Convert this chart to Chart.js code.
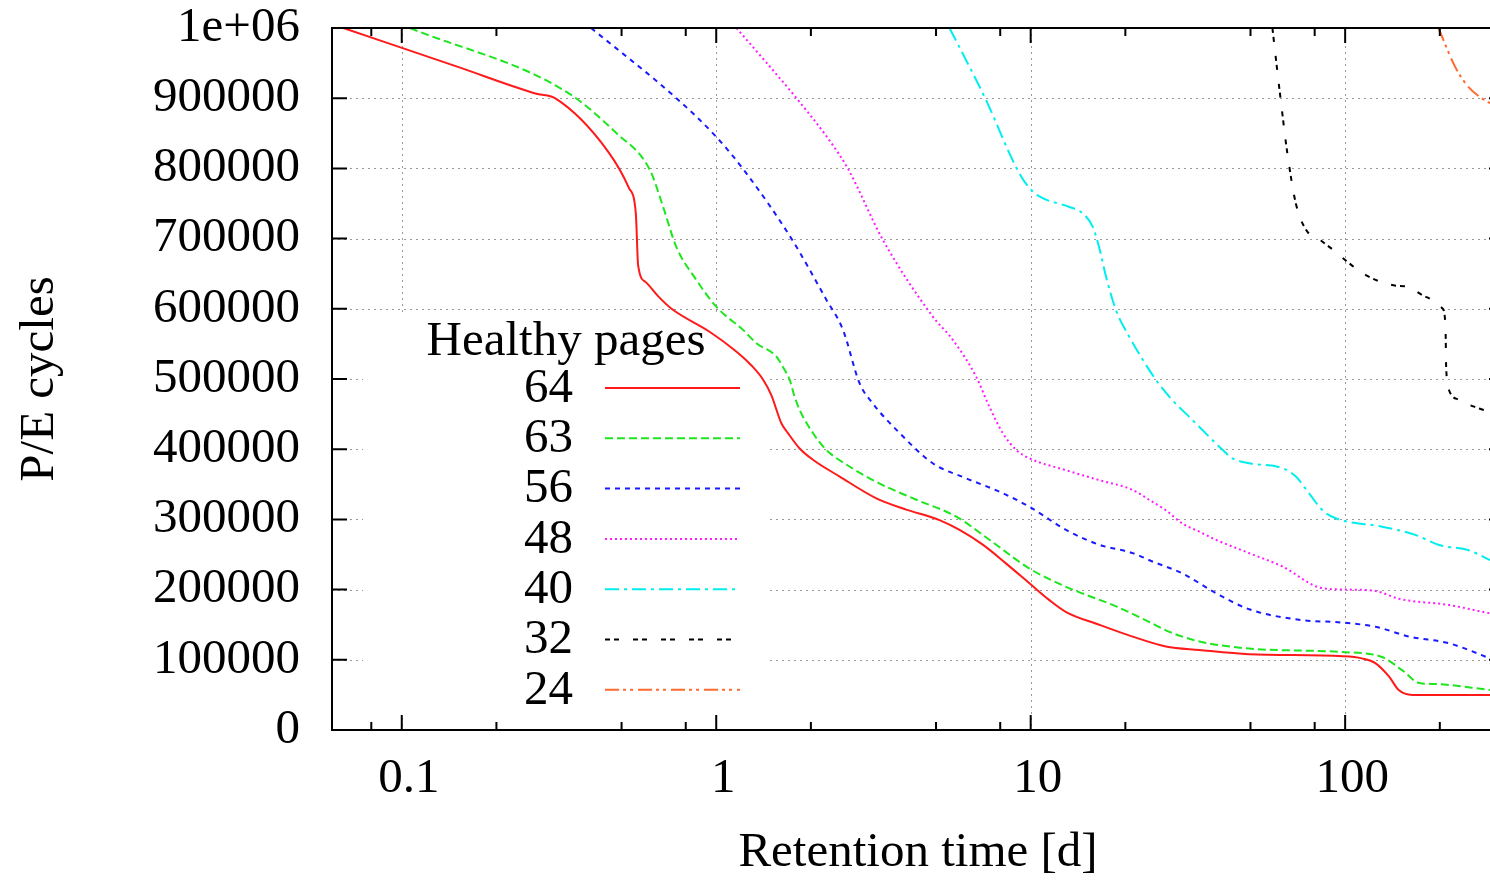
<!DOCTYPE html>
<html>
<head>
<meta charset="utf-8">
<title>P/E cycles vs retention time</title>
<script src="https://cdn.jsdelivr.net/npm/chart.js@4.4.0/dist/chart.umd.min.js"></script>
<style>
  html, body { margin: 0; padding: 0; background: #fff; overflow: hidden; }
  #chart { display: block; }
</style>
</head>
<body>
<canvas id="chart" width="1504" height="880"></canvas>
<script>
// healthy pages per curve
const seriesNames = ['64', '63', '56', '48', '40', '32', '24'];

// retention time [d] and P/E cycles
const x64 = [0.0652, 0.15, 0.27, 0.307, 0.453, 0.528, 0.555, 0.5645, 0.597, 0.653, 0.721, 0.955, 1.145, 1.29, 1.41, 1.497, 1.611, 1.69, 1.842, 2.03, 2.47, 3.23, 4.02, 5.13, 5.94, 7.04, 8.36, 9.91, 11.47, 12.96, 16.5, 21.1, 26.9, 34.4, 49.5, 98, 113, 125, 138, 148, 163.5, 289];
const y64 = [1000000, 945000, 906000, 900000, 824000, 772000, 736000, 662000, 638000, 618000, 600000, 567000, 541000, 520000, 499000, 477000, 437000, 423000, 401000, 385000, 361000, 330000, 314000, 299000, 285000, 264000, 237000, 209000, 185000, 168000, 150000, 133000, 119000, 114000, 108000, 105000, 102000, 95000, 76000, 57000, 50000, 50000];

const x63 = [0.1062, 0.334, 0.482, 0.615, 0.678, 0.747, 0.865, 1.0, 1.216, 1.342, 1.553, 1.63, 1.712, 1.775, 1.842, 2.03, 2.24, 2.66, 3.31, 4.33, 5.8, 7.39, 9.91, 12.96, 18.7, 23.8, 26.9, 30.4, 34.4, 49.5, 98, 131, 152, 172, 194, 289];
const y63 = [1000000, 909000, 850000, 798000, 745000, 688000, 641000, 603000, 570000, 551000, 532000, 517000, 499000, 475000, 456000, 423000, 399000, 375000, 351000, 328000, 304000, 271000, 230000, 204000, 176000, 154000, 142000, 133000, 126000, 116000, 111000, 104000, 85000, 67000, 65500, 57000];

const x56 = [0.40, 0.747, 1.0, 1.247, 1.734, 2.24, 2.53, 2.856, 3.15, 3.83, 4.88, 6.24, 7.95, 9.91, 12.96, 16.5, 21.1, 24.4, 30.4, 38.8, 49.5, 71.4, 98, 125, 160, 214, 289];
const y56 = [1000000, 900000, 845000, 793000, 700000, 613000, 570000, 494000, 465000, 423000, 380000, 358500, 339500, 318000, 285000, 264000, 252000, 240000, 223000, 195000, 172000, 157000, 153000, 147000, 133000, 123500, 102000];

const x48 = [1.16, 1.80, 2.29, 2.62, 3.39, 4.88, 5.65, 6.71, 7.39, 8.15, 8.99, 9.91, 12.96, 16.5, 21.1, 23.8, 26.9, 30.4, 34.4, 38.8, 49.5, 63.1, 84.7, 103, 125, 148, 214, 289];
const y48 = [1000000, 900000, 840000, 800000, 698000, 589000, 556000, 503000, 460500, 423000, 399000, 387000, 370000, 356000, 342000, 328000, 313000, 294000, 282500, 271000, 252000, 233000, 202000, 200000, 198000, 187000, 178000, 166000];

const x40 = [5.52, 7.13, 9.2, 9.91, 10.66, 13.28, 14.63, 15.74, 16.5, 17.36, 18.68, 20.6, 25, 28.2, 31.95, 39.8, 43.8, 49.5, 63.1, 69.7, 76.8, 84.7, 93.3, 131, 167, 199, 247, 289];
const y40 = [1000000, 902000, 793000, 772000, 760000, 745000, 736000, 717000, 688000, 646000, 598000, 560000, 499000, 470000, 446000, 403600, 387000, 380000, 373000, 361000, 337000, 313000, 301600, 289600, 278000, 263500, 256000, 242000];

const x32 = [58.7, 62.4, 65.5, 69.7, 75, 84.7, 93.3, 100, 116.4, 145, 156, 180.5, 204, 208.5, 209.5, 214, 231, 267, 289];
const y32 = [1000000, 897000, 821500, 750000, 713000, 695600, 681000, 669500, 648000, 633000, 632000, 617000, 600400, 575000, 517000, 484000, 470000, 458000, 453000];

const x24 = [198, 223.6, 246.5, 271.6, 289];
const y24 = [1000000, 945000, 916000, 900000, 893000];

// axis ticks
const xMajorTicks = [0.1, 1, 10, 100];
const xTickLabels = ['0.1', '1', '10', '100'];
const xMinorTicks = [0.08, 0.2, 0.5, 0.8, 2, 5, 8, 20, 50, 80, 200];
const yTicks = [0, 100000, 200000, 300000, 400000, 500000, 600000, 700000, 800000, 900000, 1000000];
const yTickLabels = ['0', '100000', '200000', '300000', '400000', '500000', '600000', '700000', '800000', '900000', '1e+06'];

const seriesX = [x64, x63, x56, x48, x40, x32, x24];
const seriesY = [y64, y63, y56, y48, y40, y32, y24];
const colors = ['#ff1a1a', '#1ee61e', '#1a1aff', '#ff1aff', '#00eeee', '#000000', '#ff6a30'];
const dashes = [[], [8, 4], [5, 5], [2, 3], [14, 5, 3, 5], [5, 4, 5, 14], [14, 4, 3, 4, 3, 5]];

const FONT = "'Liberation Serif', 'Times New Roman', serif";
const SIZE = 49;

// gnuplot-like frame: dotted grid, opaque key, inward ticks, key entries
const gnuplotFrame = {
  id: 'gnuplotFrame',
  beforeDatasetsDraw(chart) {
    const {ctx, chartArea: a, scales: {x, y}} = chart;
    ctx.save();
    ctx.strokeStyle = '#999';
    ctx.lineWidth = 1;
    ctx.setLineDash([2, 4]);
    ctx.beginPath();
    xMajorTicks.forEach(v => {
      const px = Math.round(x.getPixelForValue(v)) + 0.5;
      ctx.moveTo(px, a.top);
      ctx.lineTo(px, a.bottom);
    });
    yTicks.slice(1, -1).forEach(v => {
      const py = Math.round(y.getPixelForValue(v)) + 0.5;
      ctx.moveTo(a.left, py);
      ctx.lineTo(a.right, py);
    });
    ctx.stroke();
    ctx.setLineDash([]);
    // key background hides the grid
    ctx.fillStyle = '#fff';
    ctx.fillRect(a.left + 31, a.top + 284, 407, 404);
    ctx.restore();
  },
  afterDatasetsDraw(chart) {
    const {ctx, chartArea: a, scales: {x, y}} = chart;
    ctx.save();
    ctx.strokeStyle = '#000';
    ctx.lineWidth = 2;
    ctx.strokeRect(a.left, a.top, a.right - a.left, a.bottom - a.top);
    ctx.beginPath();
    xMajorTicks.concat(xMinorTicks).forEach(v => {
      const px = x.getPixelForValue(v);
      const len = xMajorTicks.includes(v) ? 15 : 8;
      ctx.moveTo(px, a.bottom); ctx.lineTo(px, a.bottom - len);
      ctx.moveTo(px, a.top); ctx.lineTo(px, a.top + len);
    });
    yTicks.forEach(v => {
      const py = y.getPixelForValue(v);
      ctx.moveTo(a.left, py); ctx.lineTo(a.left + 15, py);
      ctx.moveTo(a.right, py); ctx.lineTo(a.right - 15, py);
    });
    ctx.stroke();

    // key
    ctx.fillStyle = '#000';
    ctx.font = SIZE + 'px ' + FONT;
    ctx.textAlign = 'center';
    ctx.textBaseline = 'alphabetic';
    ctx.fillText('Healthy pages', a.left + 234, a.top + 327);
    seriesNames.forEach((name, i) => {
      const ly = a.top + 360 + i * 50.3;
      ctx.textAlign = 'right';
      ctx.textBaseline = 'middle';
      ctx.fillStyle = '#000';
      ctx.fillText(name, a.left + 241, ly + 1);
      ctx.strokeStyle = colors[i];
      ctx.lineWidth = 2;
      ctx.setLineDash(dashes[i]);
      ctx.beginPath();
      ctx.moveTo(a.left + 273, ly);
      ctx.lineTo(a.left + 408, ly);
      ctx.stroke();
    });
    ctx.restore();
  }
};

const datasets = seriesNames.map((name, i) => ({
  label: name,
  data: seriesX[i].map((v, j) => ({x: v, y: seriesY[i][j]})),
  borderColor: colors[i],
  borderWidth: 2,
  borderDash: dashes[i],
  pointRadius: 0,
  fill: false,
  cubicInterpolationMode: 'monotone'
}));

new Chart(document.getElementById('chart').getContext('2d'), {
  type: 'line',
  data: { datasets },
  plugins: [gnuplotFrame],
  options: {
    responsive: false,
    animation: false,
    layout: { padding: { top: 28, left: 0, right: 0, bottom: 0 } },
    plugins: { legend: { display: false }, tooltip: { enabled: false } },
    scales: {
      x: {
        type: 'logarithmic',
        min: 0.06,
        max: 320,
        grid: { display: false, drawTicks: false },
        border: { display: false },
        afterBuildTicks: s => {
          s.ticks = xMajorTicks.concat(xMinorTicks).sort((a, b) => a - b).map(v => ({ value: v }));
        },
        afterFit: s => { s.height = 150; s.paddingLeft = 0; s.paddingRight = 0; },
        ticks: {
          autoSkip: false,
          maxRotation: 0,
          padding: 25,
          labelOffset: 7,
          color: '#000',
          font: { family: FONT, size: SIZE, lineHeight: 1 },
          callback: v => {
            const k = xMajorTicks.indexOf(v);
            return k < 0 ? '' : xTickLabels[k];
          }
        },
        title: {
          display: true,
          text: 'Retention time [d]',
          color: '#000',
          font: { family: FONT, size: SIZE, lineHeight: 1 },
          padding: { top: 0, bottom: 2 }
        }
      },
      y: {
        type: 'linear',
        min: 0,
        max: 1000000,
        grid: { display: false, drawTicks: false },
        border: { display: false },
        afterBuildTicks: s => { s.ticks = yTicks.map(v => ({ value: v })); },
        afterFit: s => { s.width = 332; s.paddingTop = 0; s.paddingBottom = 0; },
        ticks: {
          autoSkip: false,
          padding: 32,
          color: '#000',
          font: { family: FONT, size: SIZE, lineHeight: 1 },
          callback: (v, i) => yTickLabels[i]
        },
        title: {
          display: true,
          text: 'P/E cycles',
          color: '#000',
          font: { family: FONT, size: SIZE, lineHeight: 1 },
          padding: { top: 16, bottom: 0 }
        }
      }
    }
  }
});
</script>
</body>
</html>
